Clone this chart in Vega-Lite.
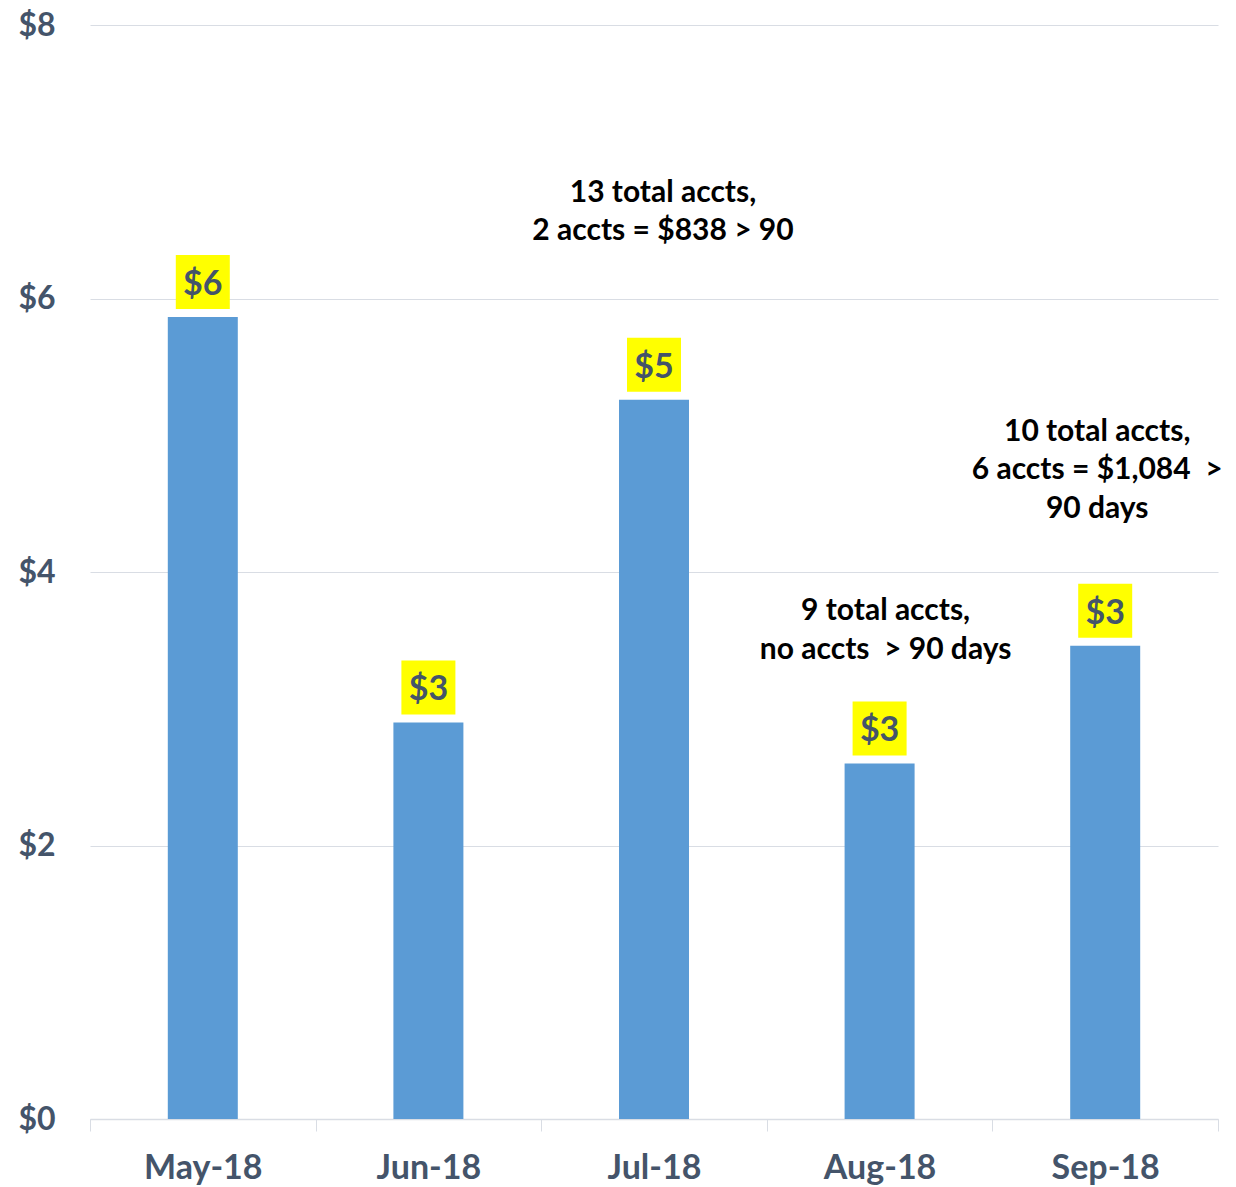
{
  "$schema": "https://vega.github.io/schema/vega-lite/v6.json",
  "width": 1128,
  "height": 1094,
  "autosize": {"type": "none"},
  "padding": {"left": 90, "top": 25, "right": 18, "bottom": 68},
  "background": "white",
  "config": {
    "view": {"stroke": null},
    "font": "Lato",
    "axis": {"labelFont": "Lato", "labelFontWeight": "bold", "labelColor": "#44546A"}
  },
  "datasets": {
    "bars": [
      {"month": "May-18", "value": 5.865},
      {"month": "Jun-18", "value": 2.90},
      {"month": "Jul-18", "value": 5.26},
      {"month": "Aug-18", "value": 2.60},
      {"month": "Sep-18", "value": 3.46}
    ],
    "notes": [
      {"month": "Jul-18", "y": 6.771, "note": "13 total accts,\n2 accts = $838 > 90"},
      {"month": "Aug-18", "y": 3.715, "note": "9 total accts,\nno accts \u00a0> 90 days"},
      {"month": "Sep-18", "y": 5.024, "note": "10 total accts,\n6 accts = $1,084 \u00a0>\n90 days"}
    ]
  },
  "encoding": {
    "x": {
      "field": "month", "type": "ordinal", "sort": null,
      "scale": {"domain": ["May-18", "Jun-18", "Jul-18", "Aug-18", "Sep-18"], "paddingInner": 0, "paddingOuter": 0},
      "axis": {
        "title": null, "labelAngle": 0, "labelFontSize": 34, "labelPadding": 20,
        "tickBand": "extent", "tickSize": 12, "tickColor": "#D9DDE4", "domainColor": "#D9DDE4", "domainWidth": 1.5, "grid": false
      }
    }
  },
  "layer": [
    {
      "data": {"name": "bars"},
      "mark": {"type": "bar", "color": "#5B9BD5", "width": 70},
      "encoding": {
        "y": {
          "field": "value", "type": "quantitative",
          "scale": {"domain": [0, 8], "nice": false},
          "axis": {
            "title": null, "values": [0, 2, 4, 6, 8], "format": "$.0f", "labelFontSize": 32,
            "labelPadding": 35, "ticks": false, "domain": false, "gridColor": "#D9DDE4", "gridWidth": 1.2
          }
        }
      }
    },
    {
      "data": {"name": "bars"},
      "mark": {"type": "point", "shape": "square", "filled": true, "opacity": 1, "color": "#FFFF00", "size": 2916, "yOffset": -35},
      "encoding": {"y": {"field": "value", "type": "quantitative"}}
    },
    {
      "data": {"name": "bars"},
      "mark": {"type": "text", "fontSize": 34, "fontWeight": "bold", "color": "#44546A", "baseline": "middle", "align": "center", "dy": -32},
      "encoding": {
        "y": {"field": "value", "type": "quantitative"},
        "text": {"field": "value", "type": "quantitative", "format": "$.0f"}
      }
    },
    {
      "data": {"name": "notes"},
      "transform": [{"filter": "datum.month == 'Jul-18'"}],
      "mark": {"type": "text", "fontSize": 30, "fontWeight": "bold", "color": "#000000", "baseline": "middle", "align": "center", "lineBreak": "\n", "lineHeight": 38, "dx": 9},
      "encoding": {"y": {"field": "y", "type": "quantitative"}, "text": {"field": "note"}}
    },
    {
      "data": {"name": "notes"},
      "transform": [{"filter": "datum.month == 'Aug-18'"}],
      "mark": {"type": "text", "fontSize": 30, "fontWeight": "bold", "color": "#000000", "baseline": "middle", "align": "center", "lineBreak": "\n", "lineHeight": 39, "dx": 6},
      "encoding": {"y": {"field": "y", "type": "quantitative"}, "text": {"field": "note"}}
    },
    {
      "data": {"name": "notes"},
      "transform": [{"filter": "datum.month == 'Sep-18'"}],
      "mark": {"type": "text", "fontSize": 30, "fontWeight": "bold", "color": "#000000", "baseline": "middle", "align": "center", "lineBreak": "\n", "lineHeight": 38.5, "dx": -8},
      "encoding": {"y": {"field": "y", "type": "quantitative"}, "text": {"field": "note"}}
    }
  ]
}
